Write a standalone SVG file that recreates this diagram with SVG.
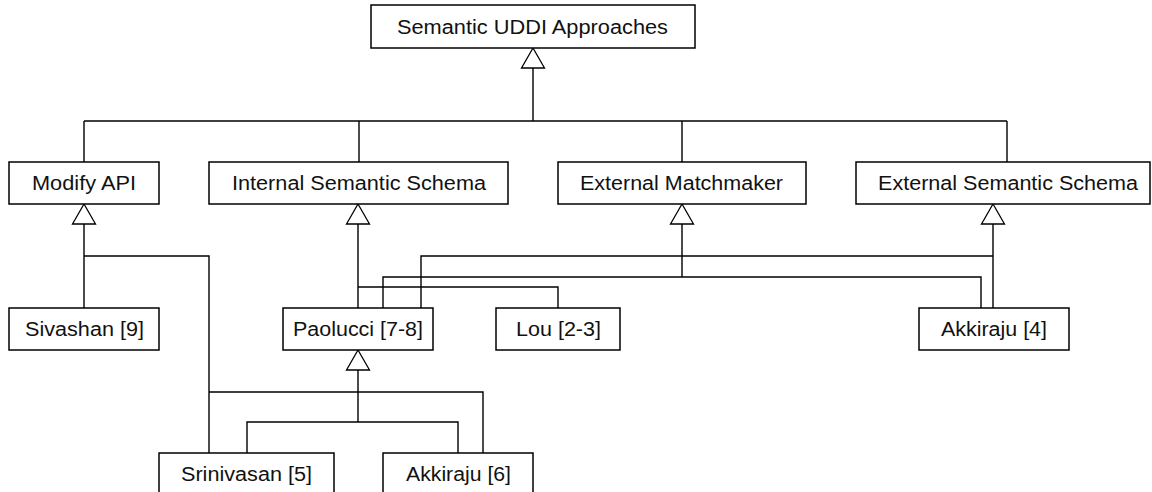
<svg xmlns="http://www.w3.org/2000/svg" width="1152" height="492" viewBox="0 0 1152 492">
  <style>
    .box { fill: #fff; stroke: #000; stroke-width: 1.5; }
    .lbl { font-family: "Liberation Sans", Arial, sans-serif; font-size: 20px; fill: #111; text-anchor: middle; }
    .wire { fill: none; stroke: #000; stroke-width: 1.4; }
    .head { fill: #fff; stroke: #000; stroke-width: 1.3; }
  </style>
  <defs>
    <!-- hollow generalisation arrowhead, apex at origin pointing up -->
    <polygon id="gen" class="head" points="0,0 11.5,20 -11.5,20"/>
  </defs>

  <rect width="1152" height="492" fill="#fff"/>

  <g id="connectors">
    <!-- root to its four categories -->
    <path class="wire" d="M533,68 V121 M84,121 H1007 M84,121 V162 M359,121 V162 M682,121 V162 M1007,121 V162"/>
    <!-- Modify API -->
    <path class="wire" d="M84,224 V308 M84,256 H209 V453 M209,392 H483 V453"/>
    <!-- Internal Semantic Schema -->
    <path class="wire" d="M358,224 V308 M358,287 H558 V308"/>
    <!-- External Matchmaker -->
    <path class="wire" d="M682,224 V277 M383,308 V277 H981 V308"/>
    <!-- External Semantic Schema -->
    <path class="wire" d="M993,224 V308 M421,308 V256 H993"/>
    <!-- Paolucci -->
    <path class="wire" d="M358,370 V422 M247,453 V422 H458 V453"/>
    <use href="#gen" x="533" y="48"/>
    <use href="#gen" x="84" y="204"/>
    <use href="#gen" x="358" y="204"/>
    <use href="#gen" x="682" y="204"/>
    <use href="#gen" x="993" y="204"/>
    <use href="#gen" x="358" y="350"/>
  </g>

  <g id="root">
    <rect class="box" x="371" y="5" width="324" height="43"/>
    <text class="lbl" x="532.5" y="34" textLength="271" lengthAdjust="spacingAndGlyphs">Semantic UDDI Approaches</text>
  </g>
  <g id="modify-api">
    <rect class="box" x="9" y="162" width="150" height="42"/>
    <text class="lbl" x="84" y="190" textLength="104" lengthAdjust="spacingAndGlyphs">Modify API</text>
  </g>
  <g id="internal-schema">
    <rect class="box" x="209" y="162" width="299" height="42"/>
    <text class="lbl" x="359" y="190" textLength="254" lengthAdjust="spacingAndGlyphs">Internal Semantic Schema</text>
  </g>
  <g id="external-matchmaker">
    <rect class="box" x="558" y="162" width="248" height="42"/>
    <text class="lbl" x="681.5" y="190" textLength="203" lengthAdjust="spacingAndGlyphs">External Matchmaker</text>
  </g>
  <g id="external-schema">
    <rect class="box" x="856" y="162" width="294" height="42"/>
    <text class="lbl" x="1008" y="190" textLength="260" lengthAdjust="spacingAndGlyphs">External Semantic Schema</text>
  </g>
  <g id="sivashan">
    <rect class="box" x="9" y="308" width="150" height="42"/>
    <text class="lbl" x="84.5" y="336" textLength="119" lengthAdjust="spacingAndGlyphs">Sivashan [9]</text>
  </g>
  <g id="paolucci">
    <rect class="box" x="283" y="308" width="150" height="42"/>
    <text class="lbl" x="358" y="336" textLength="130" lengthAdjust="spacingAndGlyphs">Paolucci [7-8]</text>
  </g>
  <g id="lou">
    <rect class="box" x="496" y="308" width="124" height="42"/>
    <text class="lbl" x="558.5" y="336" textLength="85" lengthAdjust="spacingAndGlyphs">Lou [2-3]</text>
  </g>
  <g id="akkiraju-4">
    <rect class="box" x="919" y="308" width="150" height="42"/>
    <text class="lbl" x="994" y="336" textLength="106" lengthAdjust="spacingAndGlyphs">Akkiraju [4]</text>
  </g>
  <g id="srinivasan">
    <rect class="box" x="159" y="453" width="175" height="44"/>
    <text class="lbl" x="246.5" y="481" textLength="131" lengthAdjust="spacingAndGlyphs">Srinivasan [5]</text>
  </g>
  <g id="akkiraju-6">
    <rect class="box" x="383" y="453" width="150" height="44"/>
    <text class="lbl" x="458.5" y="481" textLength="105" lengthAdjust="spacingAndGlyphs">Akkiraju [6]</text>
  </g>
</svg>
